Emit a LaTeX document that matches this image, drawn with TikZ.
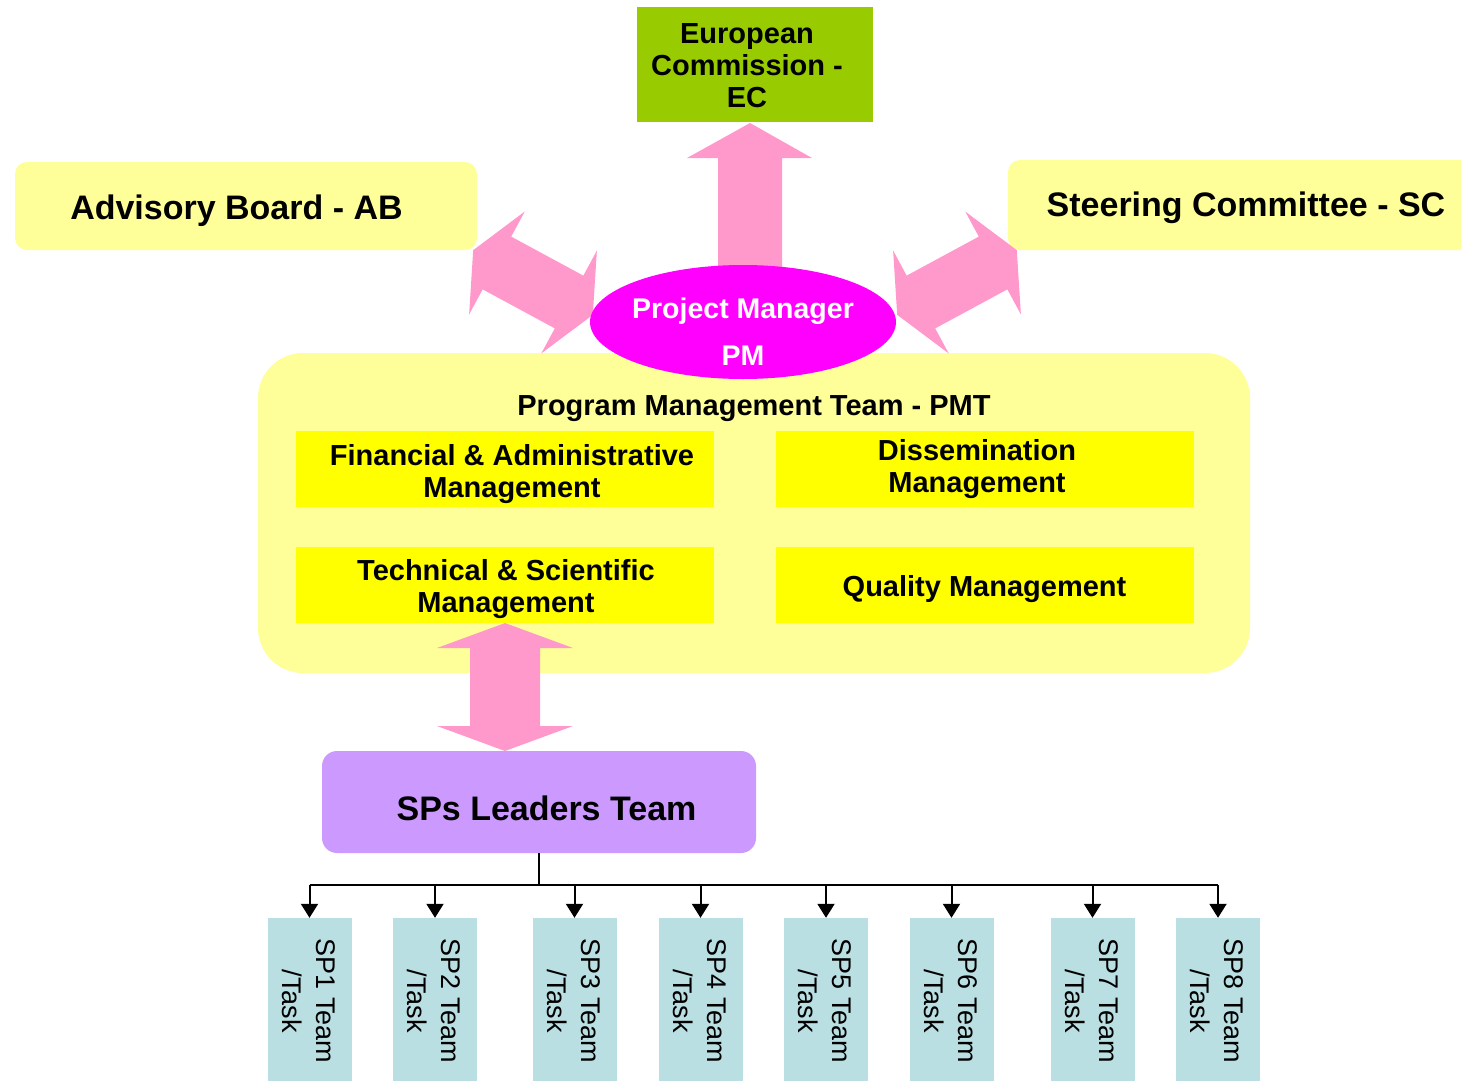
\documentclass[tikz,border=0pt]{standalone}
\usepackage{fontspec}
\setmainfont{Liberation Sans}
\usetikzlibrary{shapes.geometric,arrows.meta}
\definecolor{lyel}{HTML}{FFFF99}
\definecolor{yel}{HTML}{FFFF00}
\definecolor{ecgreen}{HTML}{99CC00}
\definecolor{pmmag}{HTML}{FF00FF}
\definecolor{pinkarr}{HTML}{FF99CC}
\definecolor{slpurple}{HTML}{CC99FF}
\definecolor{spteal}{HTML}{B9DFE2}
\begin{document}
\begin{tikzpicture}[x=1pt,y=-1pt,
  lbox/.style={fill=lyel, rounded corners=12pt, inner sep=0pt},
  mbox/.style={fill=yel, inner sep=0pt},
  bigtxt/.style={font=\fontsize{34}{40}\selectfont\bfseries, inner sep=0pt},
  midtxt/.style={font=\fontsize{29}{32}\selectfont\bfseries, align=center, inner sep=0pt},
  pmtxt/.style={font=\fontsize{28.5}{47}\selectfont\bfseries, align=center, inner sep=0pt, text=white},
  spbox/.style={fill=spteal, inner sep=0pt, minimum width=84pt, minimum height=163pt},
  sptxt/.style={font=\fontsize{27}{34}\selectfont, align=center, inner sep=0pt, rotate=-90},
  blockarr/.style={fill=pinkarr},
  treeline/.style={line width=2pt, black},
  treearr/.style={line width=2pt, black, -{Triangle[width=17pt,length=14pt]}}
]
\clip (0,0) rectangle (1461,1081);
\fill[white] (0,0) rectangle (1461,1081);

% top boxes
\node[lbox, minimum width=462pt, minimum height=88pt] (ab) at (246,206) {};
\node[bigtxt] (abt) at (236.5,211) {Advisory Board - AB};
\node[lbox, minimum width=476pt, minimum height=90pt] (sc) at (1246,205) {};
\node[bigtxt] (sct) at (1246,208) {Steering Committee - SC};
\node[fill=ecgreen, inner sep=0pt, minimum width=236pt, minimum height=115pt] (ec) at (755,64.5) {};
\node[midtxt] (ect) at (747,66) {European\\Commission -\\EC};

% PMT container
\node[fill=lyel, rounded corners=45pt, inner sep=0pt, minimum width=992pt, minimum height=320pt] (pmt) at (754,513) {};
\node[midtxt] (pmtt) at (754,409) {Program Management Team - PMT};

% block arrows around PM
\draw[blockarr, draw=none] (750,123) -- (812,158) -- (782,158) -- (782,285) -- (718,285) -- (718,158) -- (687,158) -- cycle;
\begin{scope}[shift={(533,282.5)}, rotate=-28.4]
  \fill[pinkarr] (-68,0) -- (-41,58.5) -- (-41,30) -- (41,30) -- (41,58.5) -- (68,0) -- (41,-58.5) -- (41,-30) -- (-41,-30) -- (-41,-58.5) -- cycle;
\end{scope}
\begin{scope}[shift={(957,282.5)}, rotate=28.4]
  \fill[pinkarr] (-68,0) -- (-41,58.5) -- (-41,30) -- (41,30) -- (41,58.5) -- (68,0) -- (41,-58.5) -- (41,-30) -- (-41,-30) -- (-41,-58.5) -- cycle;
\end{scope}

% Project manager
\node[ellipse, fill=pmmag, inner sep=0pt, minimum width=306pt, minimum height=114pt] (pm) at (743,322) {};
\node[pmtxt] (pmt1) at (743,332) {Project Manager\\PM};

% inner management boxes
\node[mbox, minimum width=418pt, minimum height=76pt] (fam) at (505,469) {};
\node[midtxt] (famt) at (512,474) {Financial \& Administrative\\Management};
\node[mbox, minimum width=418pt, minimum height=76pt] (dm) at (984.5,469) {};
\node[midtxt] (dmt) at (977,469) {Dissemination\\Management};
\node[mbox, minimum width=418pt, minimum height=76pt] (tsm) at (505,585) {};
\node[midtxt] (tsmt) at (506,589) {Technical \& Scientific\\Management};
\node[mbox, minimum width=418pt, minimum height=76pt] (qm) at (984.5,585) {};
\node[midtxt] (qmt) at (984.5,589) {Quality Management};

% vertical double arrow
\fill[pinkarr] (505,623) -- (573,648) -- (540,648) -- (540,726) -- (573,726) -- (505,751) -- (437,726) -- (470,726) -- (470,648) -- (437,648) -- cycle;

% SPs leaders team
\node[fill=slpurple, rounded corners=15pt, inner sep=0pt, minimum width=434pt, minimum height=102pt] (slt) at (539,802) {};
\node[bigtxt] (sltt) at (546.5,808) {SPs Leaders Team};

% SP boxes
\foreach \i/\x in {1/309.5, 2/435, 3/574.5, 4/700.5, 5/826, 6/951.5, 7/1092.5, 8/1218} {
  \node[spbox] (sp\i) at (\x,999.5) {};
  \node[sptxt] (sp\i t) at (\x-1,1001) {SP\i\ Team\\/Task};
}

% tree
\coordinate (bus) at (539,885);
\draw[treeline] (slt.south) -- (bus);
\draw[treeline] (bus -| sp1.north) -- (bus -| sp8.north);
\foreach \i in {1,...,8} {
  \draw[treearr] (bus -| sp\i.north) -- (sp\i.north);
}
\end{tikzpicture}
\end{document}
